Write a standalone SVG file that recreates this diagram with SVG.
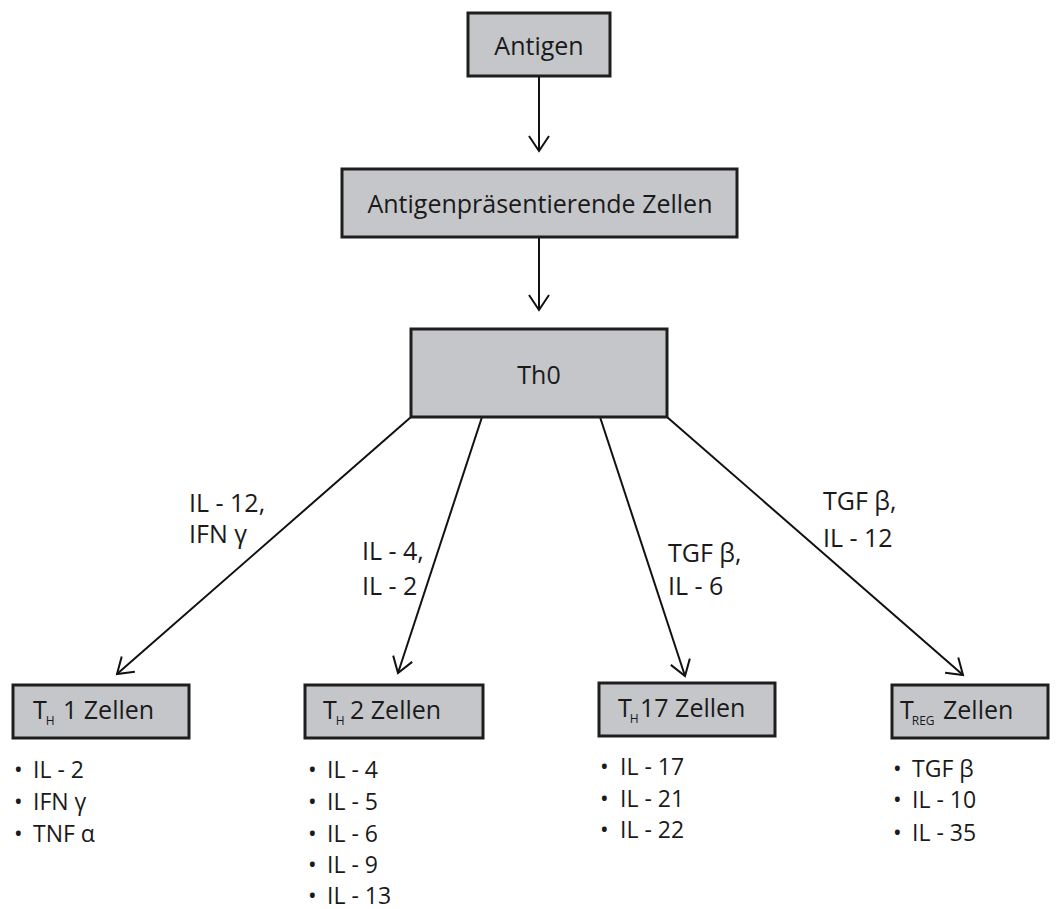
<svg xmlns="http://www.w3.org/2000/svg" width="1056" height="909" viewBox="0 0 1056 909">
<defs>
<style>
.box{fill:#c4c6c9;stroke:#1e1e1e;stroke-width:3}
.t{font-family:"Open Sans","Noto Sans",sans-serif;fill:#1a1a1a}
.bt{font-size:25px}
.lb{font-size:25px}
.lt{font-size:23px}
.sub{font-size:12px}
.edge{stroke:#111;stroke-width:2;fill:none;marker-end:url(#ah)}
</style>
<marker id="ah" markerUnits="userSpaceOnUse" markerWidth="30" markerHeight="30" viewBox="-20 -15 30 30" refX="0" refY="0" orient="auto">
<path d="M-15,-10 L0,0 L-15,10" fill="none" stroke="#111" stroke-width="2"/>
</marker>
</defs>
<rect width="1056" height="909" fill="#fff"/>
<g id="connectors">
<line class="edge" x1="539" y1="76" x2="539" y2="151"/>
<line class="edge" x1="539" y1="237" x2="539" y2="310"/>
<line class="edge" x1="411" y1="417" x2="117" y2="674"/>
<line class="edge" x1="482" y1="417" x2="398" y2="673"/>
<line class="edge" x1="600" y1="417" x2="685" y2="676"/>
<line class="edge" x1="667" y1="417" x2="963" y2="675"/>
</g>
<g id="labels">
<text class="t lb" x="189" y="512">IL - 12,</text>
<text class="t lb" x="189" y="543">IFN γ</text>
<text class="t lb" x="362" y="560">IL - 4,</text>
<text class="t lb" x="362" y="595">IL - 2</text>
<text class="t lb" x="668" y="562">TGF β,</text>
<text class="t lb" x="668" y="595">IL - 6</text>
<text class="t lb" x="823" y="510">TGF β,</text>
<text class="t lb" x="823" y="547">IL - 12</text>
</g>
<g id="antigen">
<rect class="box" x="468" y="13" width="142" height="63"/>
<text class="t bt" x="539" y="55" text-anchor="middle">Antigen</text>
</g>
<g id="apc">
<rect class="box" x="342" y="169" width="395" height="68"/>
<text class="t bt" x="540" y="213" text-anchor="middle">Antigenpräsentierende Zellen</text>
</g>
<g id="th0">
<rect class="box" x="411" y="329" width="256" height="88"/>
<text class="t bt" x="539" y="384" text-anchor="middle">Th0</text>
</g>
<g id="th1">
<rect class="box" x="13" y="685" width="176" height="53"/>
<text class="t bt" x="33" y="719">T<tspan class="sub" dx="-1" dy="6">H</tspan><tspan x="63" dy="-6">1 Zellen</tspan></text>
<text class="t lt" x="14" y="778">•</text><text class="t lt" x="33" y="778">IL - 2</text>
<text class="t lt" x="14" y="810">•</text><text class="t lt" x="33" y="810">IFN γ</text>
<text class="t lt" x="14" y="842">•</text><text class="t lt" x="33" y="842">TNF α</text>
</g>
<g id="th2">
<rect class="box" x="305" y="685" width="178" height="53"/>
<text class="t bt" x="323" y="719">T<tspan class="sub" dx="-1" dy="6">H</tspan><tspan x="350" dy="-6">2 Zellen</tspan></text>
<text class="t lt" x="308" y="778">•</text><text class="t lt" x="327" y="778">IL - 4</text>
<text class="t lt" x="308" y="810">•</text><text class="t lt" x="327" y="810">IL - 5</text>
<text class="t lt" x="308" y="842">•</text><text class="t lt" x="327" y="842">IL - 6</text>
<text class="t lt" x="308" y="873">•</text><text class="t lt" x="327" y="873">IL - 9</text>
<text class="t lt" x="308" y="904">•</text><text class="t lt" x="327" y="904">IL - 13</text>
</g>
<g id="th17">
<rect class="box" x="599" y="683" width="176" height="53"/>
<text class="t bt" x="618" y="717">T<tspan class="sub" dx="-2" dy="6">H</tspan><tspan x="640" dy="-6">17 Zellen</tspan></text>
<text class="t lt" x="600" y="775">•</text><text class="t lt" x="620" y="775">IL - 17</text>
<text class="t lt" x="600" y="807">•</text><text class="t lt" x="620" y="807">IL - 21</text>
<text class="t lt" x="600" y="838">•</text><text class="t lt" x="620" y="838">IL - 22</text>
</g>
<g id="treg">
<rect class="box" x="892" y="685" width="156" height="53"/>
<text class="t bt" x="900" y="719">T<tspan class="sub" font-size="13" dx="-2" dy="6">REG</tspan><tspan x="943" dy="-6">Zellen</tspan></text>
<text class="t lt" x="893" y="777">•</text><text class="t lt" x="912" y="777">TGF β</text>
<text class="t lt" x="893" y="808">•</text><text class="t lt" x="912" y="808">IL - 10</text>
<text class="t lt" x="893" y="841">•</text><text class="t lt" x="912" y="841">IL - 35</text>
</g>
</svg>
